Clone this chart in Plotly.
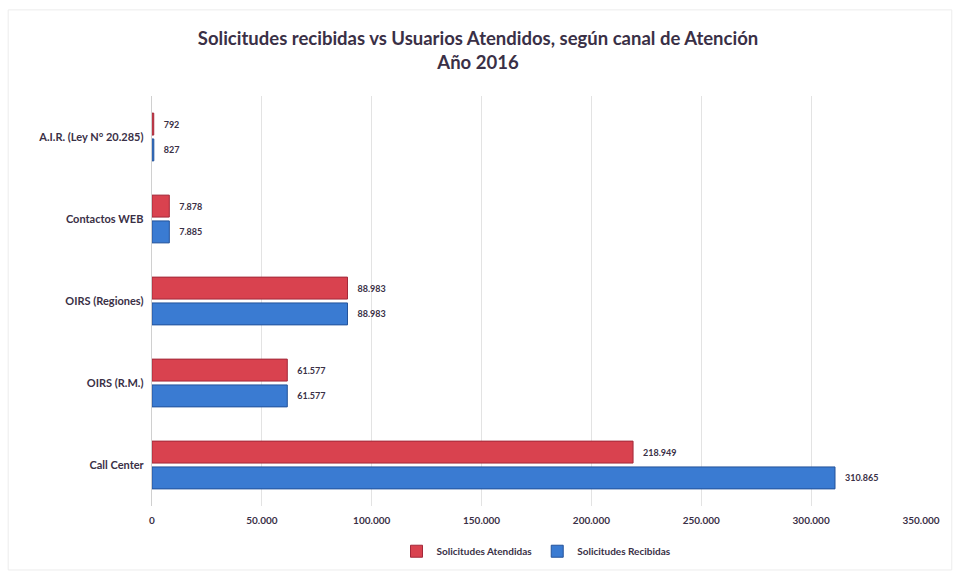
import plotly.graph_objects as go

# Canales de atención (de abajo hacia arriba en el eje)
canales = ["Call Center", "OIRS (R.M.)", "OIRS (Regiones)", "Contactos WEB", "A.I.R. (Ley N° 20.285)"]
atendidas = [218949, 61577, 88983, 7878, 792]
recibidas = [310865, 61577, 88983, 7885, 827]
ticks_x = [0, 50000, 100000, 150000, 200000, 250000, 300000, 350000]

font_fam = "Lato, 'Open Sans', sans-serif"
txt_color = "#3a3046"
pad = "\u00a0\u00a0\u00a0"

fig = go.Figure()
fig.add_trace(go.Bar(
    y=canales, x=recibidas, orientation="h", name="Solicitudes Recibidas",
    marker=dict(color="#3a7bd2", line=dict(color="#24539a", width=1)),
    texttemplate=pad + "<b>%{x:,}</b>", textposition="outside",
    textfont=dict(size=9, color=txt_color, family=font_fam),
    legendrank=2, cliponaxis=False,
))
fig.add_trace(go.Bar(
    y=canales, x=atendidas, orientation="h", name="Solicitudes Atendidas",
    marker=dict(color="#d9424f", line=dict(color="#a3293a", width=1)),
    texttemplate=pad + "<b>%{x:,}</b>", textposition="outside",
    textfont=dict(size=9, color=txt_color, family=font_fam),
    legendrank=1, cliponaxis=False,
))

fig.update_layout(
    width=956, height=573,
    separators=",.",
    barmode="group", bargap=0.37, bargroupgap=0.15,
    paper_bgcolor="white", plot_bgcolor="white",
    margin=dict(l=152, r=35, t=96, b=67, autoexpand=False),
    title=dict(
        text="<b>Solicitudes recibidas vs Usuarios Atendidos, según canal de Atención<br>Año 2016</b>",
        x=0.5, xanchor="center", y=0.922, yanchor="top",
        font=dict(size=18.5, color=txt_color, family=font_fam),
    ),
    font=dict(family=font_fam, color=txt_color),
    legend=dict(
        orientation="h", x=0.5, xanchor="center",
        yref="container", y=0.038, yanchor="middle",
        font=dict(size=10, color=txt_color, weight="bold"),
        itemwidth=30,
    ),
    xaxis=dict(
        range=[0, 350000], tickvals=ticks_x,
        tickformat=",", showgrid=True, gridcolor="#e3e3e3", gridwidth=1,
        zeroline=False, showline=False, ticklabelstandoff=7,
        tickfont=dict(size=10, color=txt_color, weight="bold"),
    ),
    yaxis=dict(
        showgrid=False, showline=True, linecolor="#d0d0d0", linewidth=1,
        tickfont=dict(size=11, color=txt_color, weight="bold"),
        ticks="", ticksuffix="  ",
    ),
    shapes=[dict(
        type="rect", xref="paper", yref="paper",
        x0=-0.187, x1=1.04, y0=-0.156, y1=1.21,
        line=dict(color="#ececec", width=1),
    )],
)

fig.write_html("out.html")
